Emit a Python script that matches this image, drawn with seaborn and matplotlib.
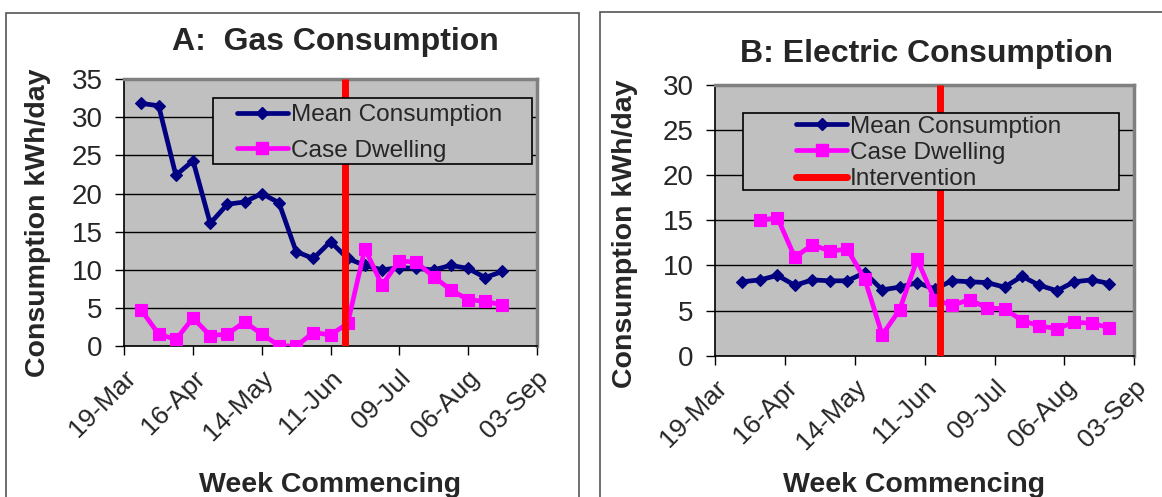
import numpy as np
import pandas as pd
import matplotlib
matplotlib.use('Agg')
import matplotlib.pyplot as plt
import matplotlib.dates as mdates
from matplotlib.patches import Rectangle
from matplotlib.lines import Line2D
from matplotlib.transforms import ScaledTranslation
import seaborn as sns

# ---------------- data ----------------
gas_weeks = ['2007-03-26', '2007-04-02', '2007-04-09', '2007-04-16', '2007-04-23', '2007-04-30',
             '2007-05-07', '2007-05-14', '2007-05-21', '2007-05-28', '2007-06-04', '2007-06-11',
             '2007-06-18', '2007-06-25', '2007-07-02', '2007-07-09', '2007-07-16', '2007-07-23',
             '2007-07-30', '2007-08-06', '2007-08-13', '2007-08-20']
gas_mean = [31.8, 31.5, 22.4, 24.3, 16.1, 18.6, 18.9, 20.0, 18.8, 12.4, 11.5, 13.7,
            11.5, 10.6, 10.0, 10.3, 10.2, 10.0, 10.6, 10.2, 9.0, 9.8]
gas_case = [4.7, 1.6, 0.9, 3.7, 1.4, 1.6, 3.2, 1.6, 0.1, 0.0, 1.8, 1.5,
            3.0, 12.8, 8.0, 11.2, 11.0, 9.1, 7.4, 6.1, 5.9, 5.4]

elec_weeks = ['2007-03-30', '2007-04-06', '2007-04-13', '2007-04-20', '2007-04-27', '2007-05-04',
              '2007-05-11', '2007-05-18', '2007-05-25', '2007-06-01', '2007-06-08', '2007-06-15',
              '2007-06-22', '2007-06-29', '2007-07-06', '2007-07-13', '2007-07-20', '2007-07-27',
              '2007-08-03', '2007-08-10', '2007-08-17', '2007-08-24']
elec_mean = [8.2, 8.4, 8.9, 7.8, 8.4, 8.3, 8.3, 9.2, 7.3, 7.6, 8.1, 7.4,
             8.3, 8.2, 8.1, 7.6, 8.8, 7.8, 7.2, 8.2, 8.4, 8.0]
elec_case_weeks = elec_weeks[1:]
elec_case = [15.0, 15.3, 10.9, 12.3, 11.6, 11.8, 8.5, 2.3, 5.1, 10.7, 6.2,
             5.6, 6.2, 5.3, 5.2, 3.9, 3.3, 3.0, 3.7, 3.6, 3.1]

intervention_date = '2007-06-17'
tick_dates = ['2007-03-19', '2007-04-16', '2007-05-14', '2007-06-11',
              '2007-07-09', '2007-08-06', '2007-09-03']
tick_labels = ['19-Mar', '16-Apr', '14-May', '11-Jun', '09-Jul', '06-Aug', '03-Sep']
gas_yticks = [0, 5, 10, 15, 20, 25, 30, 35]
elec_yticks = [0, 5, 10, 15, 20, 25, 30]
series_labels = ['Mean Consumption', 'Case Dwelling', 'Intervention']
titles = ['A:  Gas Consumption', 'B: Electric Consumption']
y_label = 'Consumption kWh/day'
x_label = 'Week Commencing'

# ---------------- style ----------------
sns.set_style('white')
plt.rcParams['font.family'] = ['Liberation Sans', 'DejaVu Sans']

NAVY = '#000080'
MAGENTA = '#FF00FF'
RED = '#FF0000'
BG = '#C0C0C0'

W, H = 1162, 497
fig = plt.figure(figsize=(W / 100, H / 100), dpi=100)


def box(x0, y0, x1, y1):
    return [x0 / W, 1 - y1 / H, (x1 - x0) / W, (y1 - y0) / H]


axA = fig.add_axes(box(124.3, 79, 536.7, 346.3))
axB = fig.add_axes(box(715, 85, 1134.3, 355.7))

# chart-area borders
fig.patches.append(Rectangle((6 / W, -0.05), (579 - 6) / W, 1 - 13 / H + 0.05,
                             transform=fig.transFigure, fill=False, ec='#555555', lw=1.2))
fig.patches.append(Rectangle((600 / W, -0.05), 0.5, 1 - 12 / H + 0.05,
                             transform=fig.transFigure, fill=False, ec='#555555', lw=1.2))


def draw(ax, mean_x, mean_y, case_x, case_y, yticks, title, title_xy,
         ylab_xy, xlab_xy, leg_rect, leg_anchor, leg_spacing, with_interv):
    ax.set_facecolor(BG)
    sns.lineplot(x=pd.to_datetime(mean_x), y=mean_y, ax=ax, color=NAVY, lw=3.4,
                 marker='D', markersize=5.8, markeredgecolor=NAVY, markeredgewidth=0.8,
                 estimator=None, legend=False, zorder=2)
    sns.lineplot(x=pd.to_datetime(case_x), y=case_y, ax=ax, color=MAGENTA, lw=3.4,
                 marker='s', markersize=8, markeredgecolor=MAGENTA, markeredgewidth=0.8,
                 estimator=None, legend=False, zorder=3)
    ax.axvline(pd.to_datetime(intervention_date), color=RED, lw=5, zorder=4,
               solid_capstyle='butt')

    ax.set_xlim(pd.to_datetime(tick_dates[0]), pd.to_datetime(tick_dates[-1]))
    ax.set_ylim(yticks[0], yticks[-1])
    ax.set_yticks(yticks)
    ax.set_yticklabels([str(v) for v in yticks], fontsize=20)
    ax.set_xticks(pd.to_datetime(tick_dates))
    ax.tick_params(axis='y', which='major', direction='out', length=6.5, width=1,
                   color='black', pad=9, left=True)
    ax.tick_params(axis='x', which='major', direction='out', length=6.5, width=1,
                   color='black', pad=8, bottom=True)
    ax.set_xticklabels(tick_labels, fontsize=19, rotation=45, ha='right',
                       rotation_mode='anchor', va='center')
    shift = ScaledTranslation(8 / 100, -8 / 100, fig.dpi_scale_trans)
    for lab in ax.get_xticklabels():
        lab.set_transform(lab.get_transform() + shift)
    ax.grid(axis='y', color='black', lw=1)
    ax.grid(axis='x', visible=False)
    ax.set_axisbelow(True)
    for s in ['left', 'bottom']:
        ax.spines[s].set_color('black')
        ax.spines[s].set_linewidth(1.2)
    for s in ['top', 'right']:
        ax.spines[s].set_color('#808080')
        ax.spines[s].set_linewidth(2.5)

    ax.set_ylabel(y_label, fontsize=20.5, fontweight='bold', va='center')
    ax.yaxis.set_label_coords(*ylab_xy)
    ax.set_xlabel(x_label, fontsize=20.5, fontweight='bold', va='center')
    ax.xaxis.set_label_coords(*xlab_xy)
    ax.set_title(title, fontsize=23, fontweight='bold', x=title_xy[0], y=title_xy[1],
                 va='center', pad=0)

    # legend
    ax.add_patch(Rectangle(leg_rect[:2], leg_rect[2], leg_rect[3], transform=ax.transAxes,
                           facecolor=BG, edgecolor='black', lw=1.2, zorder=5))
    handles = [Line2D([], [], color=NAVY, lw=3.4, marker='D', markersize=5.8),
               Line2D([], [], color=MAGENTA, lw=3.4, marker='s', markersize=8)]
    if with_interv:
        handles.append(Line2D([], [], color=RED, lw=5, solid_capstyle='round'))
    leg = ax.legend(handles, series_labels[:len(handles)], loc='center left',
                    bbox_to_anchor=leg_anchor, frameon=False, fontsize=17.6,
                    borderpad=0, borderaxespad=0, handlelength=2.1, handletextpad=0.12,
                    labelspacing=leg_spacing)
    leg.set_zorder(6)


draw(axA, gas_weeks, gas_mean, gas_weeks, gas_case, gas_yticks, titles[0],
     (0.511, 1.14), (-0.209, 0.463), (0.499, -0.519),
     (0.216, 0.681, 0.772, 0.249), (0.2725, 0.7985), 0.55, False)
draw(axB, elec_weeks, elec_mean, elec_case_weeks, elec_case, elec_yticks, titles[1],
     (0.504, 1.114), (-0.214, 0.45), (0.475, -0.478),
     (0.0675, 0.612, 0.8965, 0.283), (0.193, 0.749), 0.17, True)

fig.savefig('out.png', dpi=100, facecolor='white')
